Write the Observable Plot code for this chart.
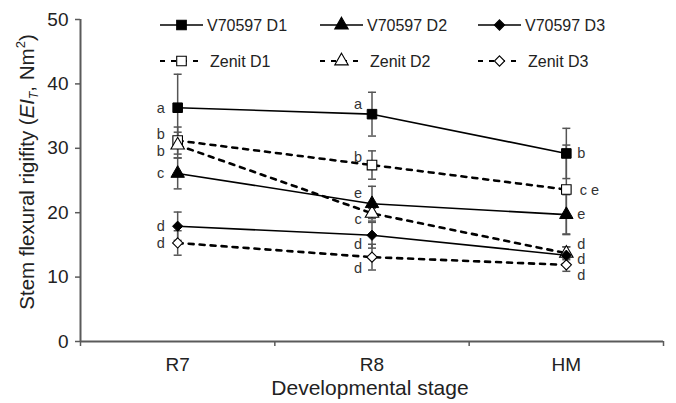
<!DOCTYPE html>
<html>
<head>
<meta charset="utf-8">
<script src="https://cdn.jsdelivr.net/npm/d3@7"></script>
<script src="https://cdn.jsdelivr.net/npm/@observablehq/plot@0.6"></script>
<style>
  body { margin: 0; background: #fff; }
  #chart { width: 676px; height: 403px; font-family: "Liberation Sans", Arial, sans-serif; }
</style>
</head>
<body>
<div id="chart"></div>
<script>
// Developmental stages on the x axis
const stages = ["R7", "R8", "HM"];
const yTicks = [0, 10, 20, 30, 40, 50];

// Series names
const seriesNames = ["V70597 D1", "V70597 D2", "V70597 D3", "Zenit D1", "Zenit D2", "Zenit D3"];

// Mean stem flexural rigidity (Nm²) at R7, R8, HM
const v70597D1 = [36.3, 35.3, 29.2];
const v70597D2 = [26.1, 21.4, 19.7];
const v70597D3 = [17.9, 16.5, 13.4];
const zenitD1 = [31.2, 27.4, 23.6];
const zenitD2 = [30.5, 19.9, 13.7];
const zenitD3 = [15.3, 13.1, 11.9];

// Error bar half-lengths
const errV70597D1 = [5.2, 3.4, 3.9];
const errV70597D2 = [2.4, 2.7, 3.1];
const errV70597D3 = [2.2, 2.0, 1.3];
const errZenitD1 = [2.1, 2.2, 6.9];
const errZenitD2 = [2.0, 0.8, 1.0];
const errZenitD3 = [1.9, 2.0, 1.0];

// Significance letters
const lettersV70597D1 = ["a", "a", "b"];
const lettersV70597D2 = ["c", "e", "e"];
const lettersV70597D3 = ["d", "d", "d"];
const lettersZenitD1 = ["b", "b", "c e"];
const lettersZenitD2 = ["b", "c", "d"];
const lettersZenitD3 = ["d", "d", "d"];

const values = [v70597D1, v70597D2, v70597D3, zenitD1, zenitD2, zenitD3];
const errs = [errV70597D1, errV70597D2, errV70597D3, errZenitD1, errZenitD2, errZenitD3];
const letters = [lettersV70597D1, lettersV70597D2, lettersV70597D3, lettersZenitD1, lettersZenitD2, lettersZenitD3];

// Marker shapes per series
const symbolNames = ["square", "triangle", "diamond2", "square", "triangle", "diamond2"];
const d3Symbols = { square: d3.symbolSquare, triangle: d3.symbolTriangle, diamond2: d3.symbolDiamond2 };
const symbolR = { square: 5.4, triangle: 5.0, diamond2: 4.6 };

// Where each letter sits relative to its marker, per stage [dx, dy]
const letterOffsets = [
  [[-17, 1], [-17, 0], [-17, 0], [-17, -6], [-17, 6], [-17, 0]],
  [[-14, -10], [-14, -10], [-14, 9], [-14, -8], [-14, 6], [-14, 11]],
  [[15, 0], [15, 0], [15, 4], [23, 1], [15, -9], [15, 10]]
];

const rows = [];
seriesNames.forEach((name, s) => {
  stages.forEach((stage, i) => {
    const v = values[s][i], e = errs[s][i];
    rows.push({
      series: name,
      cultivar: name.startsWith("Zenit") ? "Zenit" : "V70597",
      stage,
      xi: i + 0.5,
      y: v, lo: v - e, hi: v + e,
      letter: letters[s][i],
      dx: letterOffsets[i][s][0],
      dy: letterOffsets[i][s][1],
      symbol: symbolNames[s],
      r: symbolR[symbolNames[s]]
    });
  });
});

// Horizontal cap for error bars
const capSymbol = {
  draw(ctx, size) {
    const w = Math.sqrt(size / Math.PI);
    ctx.moveTo(-w, 0);
    ctx.lineTo(w, 0);
  }
};

const axisColor = "#5a5a5a";
const lineV = rows.filter(d => d.cultivar === "V70597");
const lineZ = rows.filter(d => d.cultivar === "Zenit");

const plot = Plot.plot({
  width: 676,
  height: 403,
  marginLeft: 80,
  marginRight: 13,
  marginTop: 19,
  marginBottom: 62,
  style: { fontFamily: "Liberation Sans, Arial, sans-serif", color: "#222", background: "#fff" },
  x: { type: "linear", domain: [0, stages.length] },
  y: { domain: [0, 50] },
  symbol: { type: "identity" },
  r: { type: "identity" },
  marks: [
    // Axes
    Plot.axisY({ ticks: yTicks, tickSize: 5, tickPadding: 7, fontSize: 19, stroke: axisColor, strokeWidth: 1.5, label: null }),
    Plot.axisX({ ticks: d3.range(stages.length + 1), tickSize: 5, tickFormat: () => "", stroke: axisColor, strokeWidth: 1.5, label: null }),
    Plot.axisX({ ticks: stages.map((_, i) => i + 0.5), tickSize: 0, tickPadding: 16, fontSize: 19, tickFormat: t => stages[Math.round(t - 0.5)], label: null }),
    Plot.ruleX([0], { stroke: axisColor, strokeWidth: 2 }),
    Plot.ruleY([0], { stroke: axisColor, strokeWidth: 2 }),

    // Error bars
    Plot.ruleX(rows, { x: "xi", y1: "lo", y2: "hi", stroke: "#555", strokeWidth: 1.5 }),
    Plot.dot(rows, { x: "xi", y: "hi", symbol: capSymbol, r: 4, stroke: "#555", strokeWidth: 1.5, fill: "none" }),
    Plot.dot(rows, { x: "xi", y: "lo", symbol: capSymbol, r: 4, stroke: "#555", strokeWidth: 1.5, fill: "none" }),

    // Series lines
    Plot.line(lineV, { x: "xi", y: "y", z: "series", stroke: "#000", strokeWidth: 1.6 }),
    Plot.line(lineZ, { x: "xi", y: "y", z: "series", stroke: "#000", strokeWidth: 2.6, strokeDasharray: "5,6" }),

    // Markers
    Plot.dot(lineZ, { x: "xi", y: "y", symbol: "symbol", r: "r", fill: "#fff", stroke: "#000", strokeWidth: 1.1 }),
    Plot.dot(lineV, { x: "xi", y: "y", symbol: "symbol", r: "r", fill: "#000", stroke: "#000", strokeWidth: 1 }),

    // Significance letters
    Plot.text(rows, { x: "xi", y: "y", text: "letter", fontSize: 14.5, fill: "#333" })
  ]
});

document.getElementById("chart").appendChild(plot);
const svg = d3.select(plot);

// Shift each letter beside its marker
svg.selectAll("g[aria-label='text'] text").each(function (d) {
  const row = rows[d];
  if (!row) return;
  const el = d3.select(this);
  const t = el.attr("transform") || "";
  el.attr("transform", `${t} translate(${row.dx},${row.dy})`);
});

// Axis titles
svg.append("text")
  .attr("x", 370).attr("y", 395)
  .attr("text-anchor", "middle")
  .attr("font-size", 21).attr("fill", "#222")
  .text("Developmental stage");

const yTitle = svg.append("text")
  .attr("transform", "translate(34,172) rotate(-90)")
  .attr("text-anchor", "middle")
  .attr("font-size", 20.5).attr("fill", "#222");
yTitle.append("tspan").text("Stem flexural rigifity (");
yTitle.append("tspan").attr("font-style", "italic").text("EI");
yTitle.append("tspan").attr("font-style", "italic").attr("font-size", 12).attr("dy", 4).text("T");
yTitle.append("tspan").attr("dy", -4).text(", Nm");
yTitle.append("tspan").attr("font-size", 13).attr("dy", -9).text("2");
yTitle.append("tspan").attr("dy", 9).text(")");

// Legend: two rows of three entries
const legend = svg.append("g").attr("font-size", 16).attr("fill", "#222").attr("text-anchor", "start");
const colX = [160, 320, 478];
const rowY = [25, 61];
seriesNames.forEach((name, s) => {
  const dashed = s >= 3;
  const x0 = colX[s % 3], y0 = rowY[dashed ? 1 : 0];
  const g = legend.append("g").attr("transform", `translate(${x0},${y0})`);
  g.append("line").attr("x1", 0).attr("x2", 43).attr("y1", 0).attr("y2", 0)
    .attr("stroke", "#000").attr("stroke-width", dashed ? 2 : 1.6)
    .attr("stroke-dasharray", dashed ? "5,6" : null);
  const sym = symbolNames[s];
  const rr = symbolR[sym];
  g.append("path")
    .attr("transform", "translate(21.5,0)")
    .attr("d", d3.symbol(d3Symbols[sym], Math.PI * rr * rr)())
    .attr("fill", dashed ? "#fff" : "#000")
    .attr("stroke", "#000").attr("stroke-width", 1.1);
  g.append("text").attr("x", dashed ? 50 : 47).attr("y", 0).attr("dy", "0.35em").text(name);
});
</script>
</body>
</html>
